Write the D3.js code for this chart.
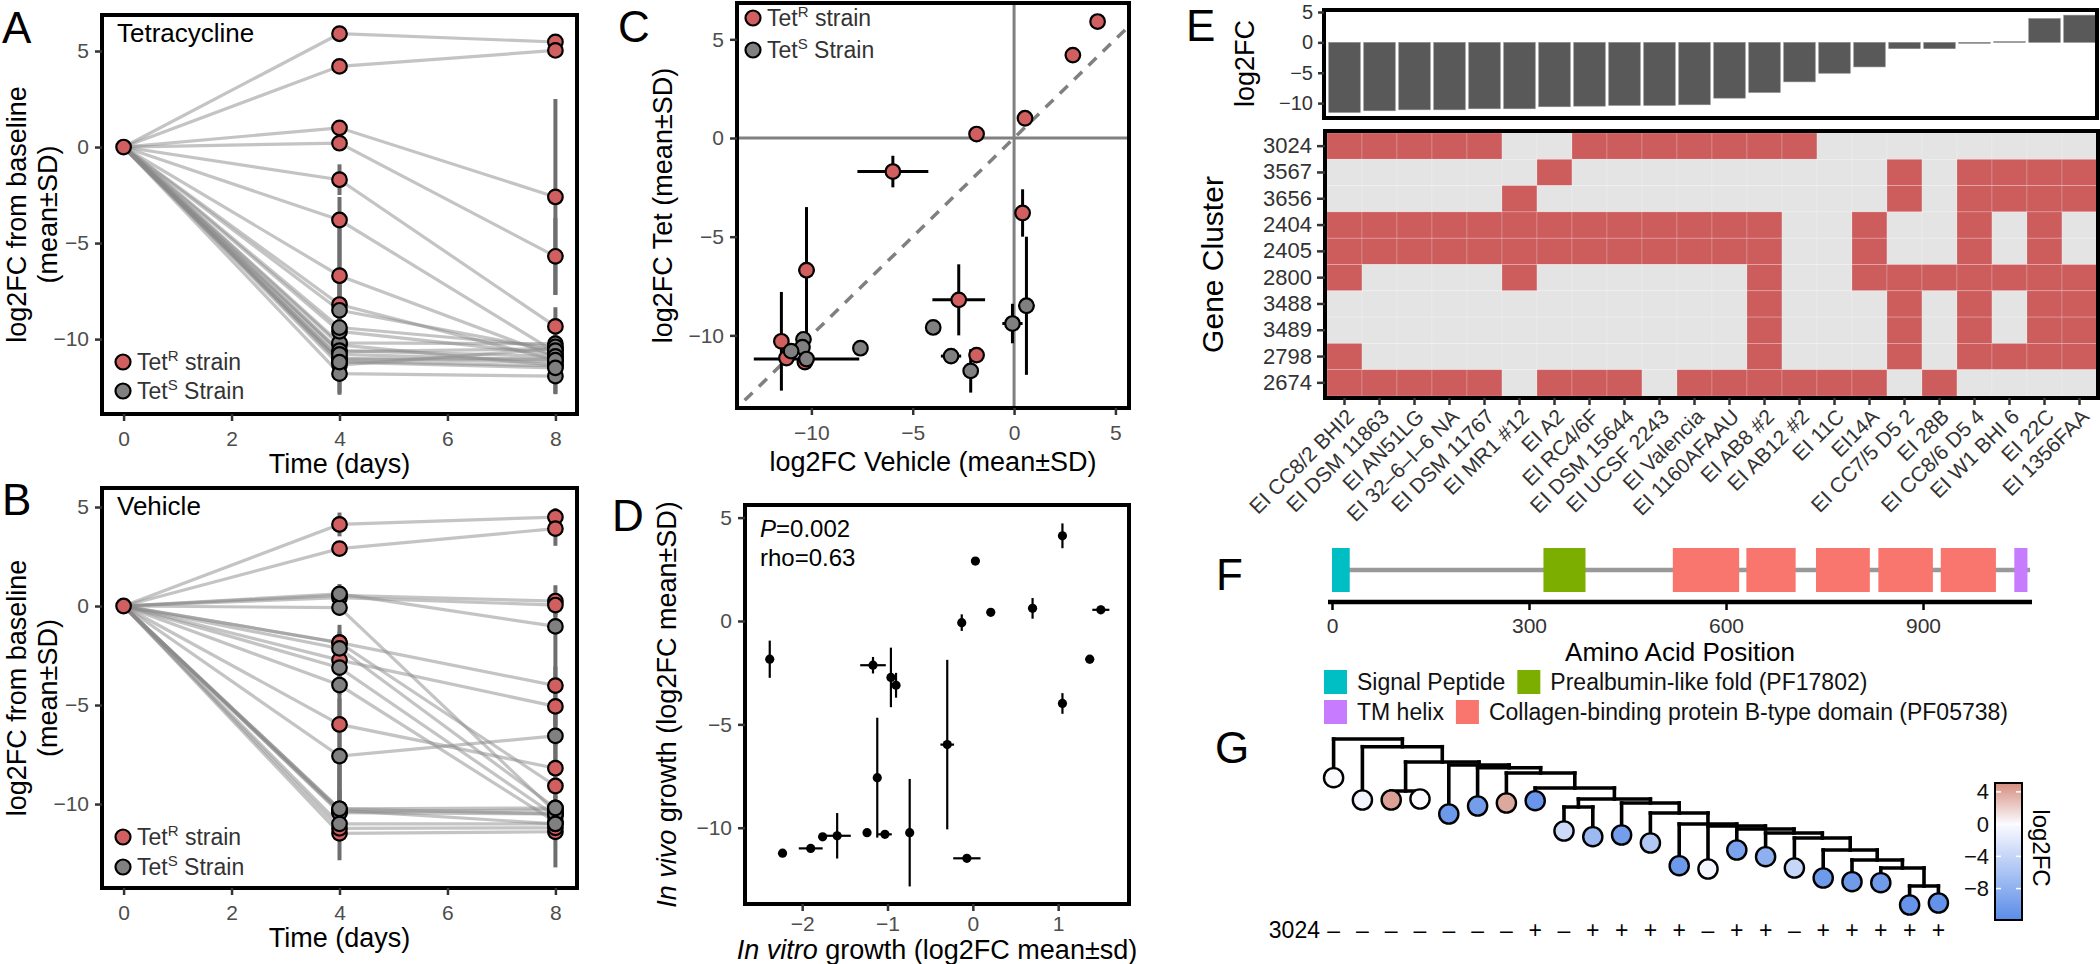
<!DOCTYPE html>
<html><head><meta charset="utf-8">
<script src="https://cdn.jsdelivr.net/npm/d3@7"></script>
<style>
body{margin:0;background:#fff;}
</style></head><body>
<svg id="c" width="2100" height="964" xmlns="http://www.w3.org/2000/svg"></svg>
<script>
// ---------------- DATA ----------------
const strainIdx = d3.range(22);
const tetStatus = ["R","R","R","R","R","R","R","R","R","R","R","R","S","S","S","S","S","S","S","S","S","S"];
const tetDay4 = [5.9,4.2,1.0,0.2,-1.7,-3.8,-6.7,-8.2,-11.0,-10.3,-11.15,-11.35,-10.2,-10.65,-9.6,-11.05,-11.8,-9.4,-8.5,-10.6,-10.8,-11.2];
const tetDay8 = [5.47,5.03,-2.6,-5.69,-9.34,-10.68,-10.9,-11.1,-11.2,-11.37,-11.4,-10.5,-10.24,-10.5,-10.8,-11.02,-11.93,-10.4,-10.6,-10.9,-11.1,-11.5];
const tetSd4 = [0.1,0.1,0.2,0.1,0.8,1.2,3.2,1.8,0.2,2.5,0.3,0.3,0.3,0.2,0.3,0.2,1.1,1.0,3.5,0.3,0.3,0.4];
const tetSd8 = [0.1,0.1,5.1,2.0,1.0,1.0,0.5,0.5,0.3,1.5,0.3,0.5,0.3,0.3,0.3,0.3,0.9,0.3,0.3,0.3,0.3,0.3];
const vehDay4 = [4.12,2.9,0.54,-1.85,-5.98,0.42,-10.24,-2.73,-1.85,-11.48,-11.23,-10.32,-10.39,-7.58,-3.99,-3.11,-2.14,-0.08,0.61,-10.44,-11.0,-10.24];
const vehDay8 = [4.49,3.91,0.25,-4.02,-8.19,0.05,-10.5,-5.07,-9.09,-11.4,-11.2,-11.0,-10.3,-6.56,-10.9,-10.6,-10.2,-10.4,-1.03,-10.5,-11.0,-10.2];
const vehSd4 = [0.6,0.1,0.2,0.9,4.1,0.1,0.1,1.44,0.2,0.1,0.1,0.1,1.1,2.9,0.5,0.6,0.4,0.4,0.5,0.1,0.1,2.6];
const vehSd8 = [0.46,0.87,0.8,2.0,1.5,0.5,0.3,2.0,1.2,1.8,0.3,0.3,0.3,1.5,0.4,0.5,0.4,0.5,1.0,0.3,0.3,0.4];
const vehSdC = [0.35,0.1,0.2,0.1,1.75,0.1,0.4,1.3,0.3,0.2,0.2,0.3,0.3,0.2,0.3,0.5,0.3,0.5,0.4,0.3,0.3,2.6];
const vitroGrowth = [1.05,0.03,1.5,-2.38,-0.30,0.21,-1.24,-0.96,1.37,-0.07,-2.23,-1.03,-1.59,-1.12,1.05,-0.90,-1.17,-0.13,0.70,-1.76,-1.90,-0.74];
const vitroSd = [0.03,0.03,0.1,0.03,0.08,0.03,0.03,0.03,0.05,0.16,0.03,0.08,0.16,0.03,0.03,0.03,0.15,0.03,0.05,0.05,0.14,0.03];

const timeTicks = [0,2,4,6,8];
const log2Ticks = [-10,-5,0,5];
const vitroTicks = [-2,-1,0,1];

const strainNames = ["EI CC8/2 BHI2","EI DSM 11863","EI AN51LG","EI 32–6–I–6 NA","EI DSM 11767","EI MR1 #12","EI A2","EI RC4/6F","EI DSM 15644","EI UCSF 2243","EI Valencia","EI 1160AFAAU","EI AB8 #2","EI AB12 #2","EI 11C","EI14A","EI CC7/5 D5 2","EI 28B","EI CC8/6 D5 4","EI W1 BHI 6","EI 22C","EI 1356FAA"];
const barLog2FC = [-11.53,-11.26,-11.1,-11.1,-10.93,-10.93,-10.6,-10.5,-10.38,-10.38,-10.27,-9.18,-8.25,-6.5,-5.08,-4.04,-1.04,-1.04,-0.15,0.12,3.93,4.48];
const geneClusters = ["3024","3567","3656","2404","2405","2800","3488","3489","2798","2674"];
const presence = [
 [1,1,1,1,1,0,0,1,1,1,1,1,1,1,0,0,0,0,0,0,0,0],
 [0,0,0,0,0,0,1,0,0,0,0,0,0,0,0,0,1,0,1,1,1,1],
 [0,0,0,0,0,1,0,0,0,0,0,0,0,0,0,0,1,0,1,1,1,1],
 [1,1,1,1,1,1,1,1,1,1,1,1,1,0,0,1,0,0,1,0,1,0],
 [1,1,1,1,1,1,1,1,1,1,1,1,1,0,0,1,0,0,1,0,1,0],
 [1,0,0,0,0,1,0,0,0,0,0,0,1,0,0,1,1,1,1,1,1,1],
 [0,0,0,0,0,0,0,0,0,0,0,0,1,0,0,0,1,0,1,0,1,1],
 [0,0,0,0,0,0,0,0,0,0,0,0,1,0,0,0,1,0,1,0,1,1],
 [1,0,0,0,0,0,0,0,0,0,0,0,1,0,0,0,1,0,1,1,1,1],
 [1,1,1,1,1,0,1,1,1,0,1,1,1,1,1,1,0,1,0,0,0,0]
];

const aaTicks = [0,300,600,900];
const proteinLength = 1063;
const domainNames = ["Signal Peptide","Prealbumin-like fold (PF17802)","TM helix","Collagen-binding protein B-type domain (PF05738)"];
const domainColors = ["#00BFC4","#7CAE00","#C77CFF","#F8766D"];
const domainType = [0,1,3,3,3,3,3,2];
const domainStart = [0,322,519,631,737,832,927,1039];
const domainEnd = [27,386,620,706,819,915,1011,1059];

const tipLog2FC = [0.1,-0.6,4.2,0.05,-10.5,-10.0,3.9,-10.8,-3.5,-7.0,-10.0,-5.5,-10.5,-0.6,-9.5,-8.0,-4.0,-10.4,-10.3,-10.3,-11.0,-11.3];
const tip3024 = [0,0,0,0,0,0,0,1,0,1,1,1,1,0,1,1,0,1,1,1,1,1];
const tipDepth = [3.87,6.1,6.1,6.0,7.5,6.7,6.4,6.17,9.2,9.77,9.6,10.4,12.67,13.0,11.1,11.77,12.9,13.9,14.27,14.37,16.6,16.4];
const treeNodes = [ // id, child A, child B, depth
 ["n21","t20","t21",14.7],["n20","t19","n21",12.9],["n19","t18","n20",12.1],["n18","t17","n19",11.1],
 ["n17","t16","n18",9.9],["n16","t15","n17",9.4],["n15","t14","n16",9.0],["n14","t13","n15",8.7],
 ["n13","t12","n14",8.5],["n12","t11","n13",7.4],["n11","t10","n12",6.4],["n10","t8","t9",6.8],
 ["n9","n10","n11",6.0],["n8","t7","n9",4.9],["n7","t6","n8",3.4],["n6","t5","n7",2.87],
 ["n5","t4","n6",2.6],["n4","t2","t3",5.2],["n3","n4","n5",2.3],["n2","t1","n3",0.77],["n1","t0","n2",0]
];
const colorbarTicks = [4,0,-4,-8];

// ---------------- HELPERS ----------------
const FONT = '"Liberation Sans", Arial, Helvetica, sans-serif';
const RED = "#D25F5F", GREY = "#808080", TXT = "#4d4d4d";
const fmtInt = d3.format("d");
const svg = d3.select("#c").attr("font-family", FONT);

function frame(x0,y0,x1,y1,w){
  svg.append("rect").attr("x",x0).attr("y",y0).attr("width",x1-x0).attr("height",y1-y0)
    .attr("fill","none").attr("stroke","#000").attr("stroke-width",w||4);
}
function styleAxis(g, fs, col){
  g.attr("font-family", FONT).attr("font-size", fs);
  g.select(".domain").remove();
  g.selectAll(".tick line").attr("stroke","#333").attr("stroke-width",2.5);
  g.selectAll(".tick text").attr("fill", col||TXT);
}
function label(t,x,y){ svg.append("text").attr("x",x).attr("y",y).attr("font-size",44).text(t); }
function vtitle(lines, x, yc, fs, rot){
  lines.forEach((l,i)=>{
    svg.append("text").attr("transform",`translate(${x[i]},${yc}) rotate(${rot||-90})`)
      .attr("text-anchor","middle").attr("font-size",fs).text(l);
  });
}
function legendTet(x, y1, y2){
  [[RED,"R"," strain",y1],[GREY,"S"," Strain",y2]].forEach(([c,s,rest,y])=>{
    svg.append("circle").attr("cx",x).attr("cy",y).attr("r",7.5).attr("fill",c).attr("stroke","#000").attr("stroke-width",2.2);
    const t = svg.append("text").attr("x",x+14).attr("y",y+8).attr("font-size",23).attr("fill","#333");
    t.append("tspan").text("Tet");
    t.append("tspan").attr("dy",-9).attr("font-size",15).text(s);
    t.append("tspan").attr("dy",9).text(rest);
  });
}

// ---------------- PANELS A & B ----------------
function timePanel(top, bottom, yDom, d4, d8, s4, s8, name, lab, labY, legY){
  const x = d3.scaleLinear([-0.4,8.4],[102,577]);
  const y = d3.scaleLinear(yDom,[bottom,top]);
  const g = svg.append("g");
  const line = d3.line().x(d=>x(d[0])).y(d=>y(d[1]));
  strainIdx.forEach(i=>{
    g.append("path").attr("d", line([[0,0],[4,d4[i]],[8,d8[i]]]))
      .attr("fill","none").attr("stroke","#8a8a8a").attr("stroke-opacity",0.5).attr("stroke-width",3.2);
  });
  strainIdx.forEach(i=>{
    [[4,d4[i],s4[i]],[8,d8[i],s8[i]]].forEach(([t,v,s])=>{
      g.append("line").attr("x1",x(t)).attr("x2",x(t)).attr("y1",y(v-s)).attr("y2",y(v+s))
        .attr("stroke","#6e6e6e").attr("stroke-width",4);
    });
  });
  const order = strainIdx.filter(i=>tetStatus[i]==="R").concat(strainIdx.filter(i=>tetStatus[i]==="S"));
  order.forEach(i=>{
    [[4,d4[i]],[8,d8[i]]].forEach(([t,v])=>{
      g.append("circle").attr("cx",x(t)).attr("cy",y(v)).attr("r",7.3)
        .attr("fill",tetStatus[i]==="R"?RED:GREY).attr("stroke","#000").attr("stroke-width",2.2);
    });
  });
  g.append("circle").attr("cx",x(0)).attr("cy",y(0)).attr("r",7.3).attr("fill",RED).attr("stroke","#000").attr("stroke-width",2.2);
  frame(102,top,577,bottom);
  const ax = svg.append("g").attr("transform",`translate(0,${bottom})`).call(d3.axisBottom(x).tickValues(timeTicks).tickSize(7).tickPadding(10));
  styleAxis(ax,21);
  const ay = svg.append("g").attr("transform",`translate(102,0)`).call(d3.axisLeft(y).tickValues(log2Ticks).tickSize(7).tickPadding(6));
  styleAxis(ay,21);
  svg.append("text").attr("x",339.5).attr("y",bottom+59).attr("text-anchor","middle").attr("font-size",27).text("Time (days)");
  vtitle(["log2FC from baseline","(mean±SD)"],[26,57],(top+bottom)/2,27);
  svg.append("text").attr("x",117).attr("y",top+27).attr("font-size",26).text(name);
  legendTet(123, legY[0], legY[1]);
  label(lab,2,labY);
}
timePanel(15,414,[-13.9,6.875],tetDay4,tetDay8,tetSd4,tetSd8,"Tetracycline","A",43,[362,391]);
timePanel(488,888,[-14.24,5.96],vehDay4,vehDay8,vehSd4,vehSd8,"Vehicle","B",515,[837,867]);

// ---------------- PANEL C ----------------
(function(){
  const x = d3.scaleLinear([-13.67,5.67],[737,1129]);
  const y = d3.scaleLinear([-13.68,6.84],[408,3]);
  svg.append("defs").append("clipPath").attr("id","clipC").append("rect").attr("x",737).attr("y",3).attr("width",392).attr("height",405);
  const g = svg.append("g").attr("clip-path","url(#clipC)");
  g.append("line").attr("x1",737).attr("x2",1129).attr("y1",y(0)).attr("y2",y(0)).attr("stroke","#808080").attr("stroke-width",3);
  g.append("line").attr("y1",3).attr("y2",408).attr("x1",x(0)).attr("x2",x(0)).attr("stroke","#808080").attr("stroke-width",3);
  g.append("line").attr("x1",x(-14)).attr("y1",y(-14)).attr("x2",x(7)).attr("y2",y(7))
    .attr("stroke","#808080").attr("stroke-width",3.5).attr("stroke-dasharray","11,9");
  strainIdx.forEach(i=>{
    g.append("line").attr("x1",x(vehDay4[i]-vehSdC[i])).attr("x2",x(vehDay4[i]+vehSdC[i])).attr("y1",y(tetDay4[i])).attr("y2",y(tetDay4[i])).attr("stroke","#000").attr("stroke-width",3);
    g.append("line").attr("x1",x(vehDay4[i])).attr("x2",x(vehDay4[i])).attr("y1",y(tetDay4[i]-tetSd4[i])).attr("y2",y(tetDay4[i]+tetSd4[i])).attr("stroke","#000").attr("stroke-width",3);
  });
  strainIdx.forEach(i=>{
    g.append("circle").attr("cx",x(vehDay4[i])).attr("cy",y(tetDay4[i])).attr("r",7.3)
      .attr("fill",tetStatus[i]==="R"?RED:GREY).attr("stroke","#000").attr("stroke-width",2.2);
  });
  frame(737,3,1129,408);
  const ax = svg.append("g").attr("transform","translate(0,408)").call(d3.axisBottom(x).tickValues(log2Ticks).tickSize(7).tickPadding(10));
  styleAxis(ax,21);
  const ay = svg.append("g").attr("transform","translate(737,0)").call(d3.axisLeft(y).tickValues(log2Ticks).tickSize(7).tickPadding(6));
  styleAxis(ay,21);
  svg.append("text").attr("x",933).attr("y",471).attr("text-anchor","middle").attr("font-size",27).text("log2FC Vehicle (mean±SD)");
  vtitle(["log2FC Tet (mean±SD)"],[672],205.5,27);
  legendTet(753,18,50);
  label("C",618,42);
})();

// ---------------- PANEL D ----------------
(function(){
  const x = d3.scaleLinear([-2.67,1.83],[745,1129]);
  const y = d3.scaleLinear([-13.69,5.61],[904,505]);
  const g = svg.append("g");
  strainIdx.forEach(i=>{
    g.append("line").attr("x1",x(vitroGrowth[i]-vitroSd[i])).attr("x2",x(vitroGrowth[i]+vitroSd[i])).attr("y1",y(vehDay4[i])).attr("y2",y(vehDay4[i])).attr("stroke","#000").attr("stroke-width",2.2);
    g.append("line").attr("x1",x(vitroGrowth[i])).attr("x2",x(vitroGrowth[i])).attr("y1",y(vehDay4[i]-vehSd4[i])).attr("y2",y(vehDay4[i]+vehSd4[i])).attr("stroke","#000").attr("stroke-width",2.2);
    g.append("circle").attr("cx",x(vitroGrowth[i])).attr("cy",y(vehDay4[i])).attr("r",4.6).attr("fill","#000");
  });
  frame(745,505,1129,904);
  const ax = svg.append("g").attr("transform","translate(0,904)").call(d3.axisBottom(x).tickValues(vitroTicks).tickFormat(fmtInt).tickSize(7).tickPadding(5));
  styleAxis(ax,21);
  const ay = svg.append("g").attr("transform","translate(745,0)").call(d3.axisLeft(y).tickValues(log2Ticks).tickSize(7).tickPadding(6));
  styleAxis(ay,21);
  const tx = svg.append("text").attr("x",937).attr("y",959).attr("text-anchor","middle").attr("font-size",27);
  tx.append("tspan").attr("font-style","italic").text("In vitro");
  tx.append("tspan").text(" growth (log2FC mean±sd)");
  const ty = svg.append("text").attr("transform","translate(676,704.5) rotate(-90)").attr("text-anchor","middle").attr("font-size",27);
  ty.append("tspan").attr("font-style","italic").text("In vivo");
  ty.append("tspan").text(" growth (log2FC mean±SD)");
  const p = svg.append("text").attr("x",760).attr("y",537).attr("font-size",24);
  p.append("tspan").attr("font-style","italic").text("P");
  p.append("tspan").text("=0.002");
  svg.append("text").attr("x",760).attr("y",566).attr("font-size",24).text("rho=0.63");
  label("D",612,531);
})();

// ---------------- PANEL E ----------------
(function(){
  const xb = d3.scaleBand(strainNames,[1327,2097]);
  const bw = xb.bandwidth();
  const yb = d3.scaleLinear([-12.45,5.33],[118,10]);
  strainNames.forEach((n,i)=>{
    const v = barLog2FC[i];
    svg.append("rect").attr("x",xb(n)+bw*0.05).attr("width",bw*0.9)
      .attr("y",yb(Math.max(0,v))).attr("height",Math.abs(yb(v)-yb(0)))
      .attr("fill","#595959").attr("stroke","#8a8a8a").attr("stroke-width",0.6);
  });
  frame(1324,10,2097,118);
  const ay = svg.append("g").attr("transform","translate(1324,0)").call(d3.axisLeft(yb).tickValues(log2Ticks).tickSize(6).tickPadding(5));
  styleAxis(ay,20,"#333");
  vtitle(["log2FC"],[1254],63.5,27);
  label("E",1186,41);

  const yh = d3.scaleBand(geneClusters,[133,396]);
  geneClusters.forEach((c,r)=>{
    strainNames.forEach((n,j)=>{
      svg.append("rect").attr("x",xb(n)).attr("y",yh(c)).attr("width",bw).attr("height",yh.bandwidth())
        .attr("fill",presence[r][j]?"#CD5C5C":"#E4E4E4").attr("stroke","#ffffff").attr("stroke-opacity",0.25).attr("stroke-width",0.8);
    });
  });
  frame(1325,131,2098,398);
  const ah = svg.append("g").attr("transform","translate(1325,0)").call(d3.axisLeft(yh).tickSize(8).tickPadding(5));
  styleAxis(ah,22,"#333");
  const axh = svg.append("g").attr("transform","translate(0,398)").call(d3.axisBottom(xb).tickSize(7).tickPadding(4));
  styleAxis(axh,21,"#333");
  axh.selectAll(".tick text").attr("text-anchor","end").attr("dy",null).attr("y",null)
    .attr("transform","translate(7,16) rotate(-45)").attr("dominant-baseline","middle");
  vtitle(["Gene Cluster"],[1223],264.5,30);
})();

// ---------------- PANEL F ----------------
(function(){
  const x = d3.scaleLinear([0,1000],[1332,1332+656.7]);
  svg.append("line").attr("x1",x(0)).attr("x2",x(proteinLength)).attr("y1",570).attr("y2",570).attr("stroke","#999").attr("stroke-width",4.5);
  domainStart.forEach((s,i)=>{
    svg.append("rect").attr("x",x(s)).attr("width",x(domainEnd[i])-x(s)).attr("y",548).attr("height",44)
      .attr("fill",domainColors[domainType[i]]);
  });
  svg.append("line").attr("x1",1328).attr("x2",2032).attr("y1",602).attr("y2",602).attr("stroke","#000").attr("stroke-width",4.5);
  const ax = svg.append("g").attr("transform","translate(0,602)").call(d3.axisBottom(x).tickValues(aaTicks).tickSize(8).tickPadding(8));
  styleAxis(ax,21,"#333");
  ax.selectAll(".tick line").attr("stroke","#000");
  svg.append("text").attr("x",1680).attr("y",661).attr("text-anchor","middle").attr("font-size",26).text("Amino Acid Position");
  label("F",1216,590);
  const rows = [[0,1],[2,3]];
  rows.forEach((r,ri)=>{
    let cx = 1324;
    const cy = 682 + ri*30;
    r.forEach(k=>{
      svg.append("rect").attr("x",cx).attr("y",cy-12).attr("width",23).attr("height",24).attr("fill",domainColors[k]);
      const t = svg.append("text").attr("x",cx+33).attr("y",cy+8).attr("font-size",23).attr("fill","#111").text(domainNames[k]);
      cx += 33 + t.node().getComputedTextLength() + 12;
    });
  });
})();

// ---------------- PANEL G ----------------
(function(){
  const tips = d3.range(22).map(i=>"t"+i);
  const x = d3.scalePoint(tips,[1333.6,1938.4]);
  const y = d3.scaleLinear([0,16.6],[739,905]);
  const pos = {};
  tips.forEach((t,i)=>pos[t]={x:x(t),y:y(tipDepth[i])});
  const g = svg.append("g").attr("stroke","#000").attr("stroke-width",3.6).attr("stroke-linecap","square");
  treeNodes.forEach(([id,a,b,d])=>{
    pos[id] = {x:(pos[a].x+pos[b].x)/2, y:y(d)};
    g.append("line").attr("x1",pos[a].x).attr("x2",pos[b].x).attr("y1",y(d)).attr("y2",y(d));
    [a,b].forEach(c=>g.append("line").attr("x1",pos[c].x).attr("x2",pos[c].x).attr("y1",y(d)).attr("y2",pos[c].y));
  });
  const col = d3.scaleLinear([-11.9,0,5.1],["#5A8CE8","#FBFBFF","#D48E7F"]);
  tips.forEach((t,i)=>{
    svg.append("circle").attr("cx",pos[t].x).attr("cy",pos[t].y).attr("r",9.6)
      .attr("fill",col(tipLog2FC[i])).attr("stroke","#000").attr("stroke-width",2.4);
  });
  svg.append("text").attr("x",1320).attr("y",938).attr("text-anchor","end").attr("font-size",23).text("3024");
  tips.forEach((t,i)=>{
    svg.append("text").attr("x",pos[t].x).attr("y",938).attr("text-anchor","middle").attr("font-size",23).text(tip3024[i]?"+":"–");
  });
  label("G",1215,763);
  const cbY = d3.scaleLinear([-11.9,5.1],[920,783]);
  const grad = svg.append("defs").append("linearGradient").attr("id","cbar").attr("x1",0).attr("x2",0).attr("y1",1).attr("y2",0);
  d3.range(0,1.0001,0.05).forEach(f=>{
    const v = -11.9 + f*17;
    grad.append("stop").attr("offset",f).attr("stop-color",col(v));
  });
  svg.append("rect").attr("x",1995).attr("y",783).attr("width",27).attr("height",137).attr("fill","url(#cbar)").attr("stroke","#000").attr("stroke-width",2);
  colorbarTicks.forEach(v=>{
    svg.append("line").attr("x1",1996).attr("x2",2001).attr("y1",cbY(v)).attr("y2",cbY(v)).attr("stroke","#fff").attr("stroke-width",1.5);
    svg.append("line").attr("x1",2016).attr("x2",2021).attr("y1",cbY(v)).attr("y2",cbY(v)).attr("stroke","#fff").attr("stroke-width",1.5);
  });
  const ac = svg.append("g").attr("transform","translate(1995,0)").call(d3.axisLeft(cbY).tickValues(colorbarTicks).tickSize(0).tickPadding(6));
  styleAxis(ac,22,"#111");
  svg.append("text").attr("transform","translate(2033,848) rotate(90)").attr("text-anchor","middle").attr("font-size",24).text("log2FC");
})();
</script>
</body></html>
